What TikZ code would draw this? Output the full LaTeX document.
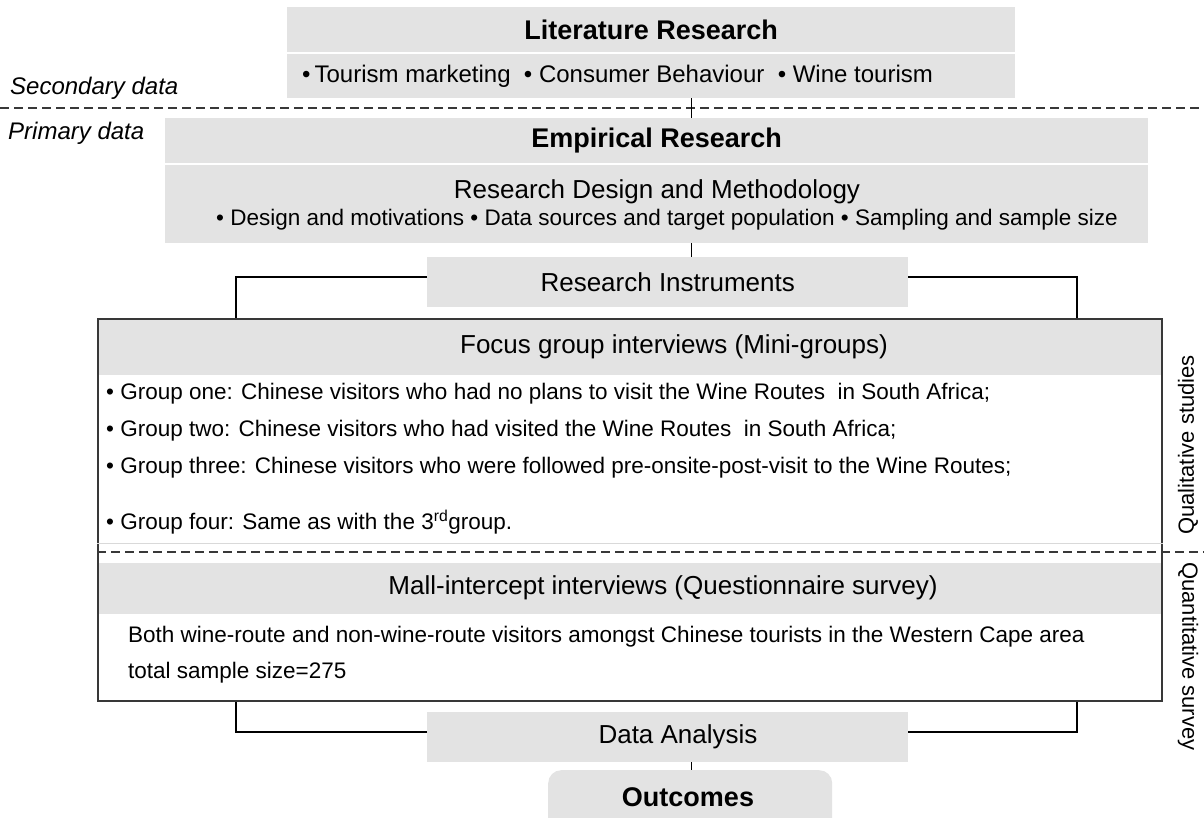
\documentclass[tikz,border=0pt]{standalone}
\usepackage{fontspec}
\setmainfont{Liberation Sans}
\usetikzlibrary{calc}

\definecolor{panel}{HTML}{E3E3E3}
\definecolor{rulecol}{HTML}{383838}

\newcommand\titlefnt{\fontsize{27}{32}\selectfont\bfseries}
\newcommand\headfnt{\fontsize{26}{30}\selectfont}
\newcommand\topicfnt{\fontsize{24}{28}\selectfont}
\newcommand\bodyfnt{\fontsize{22.5}{27}\selectfont}
\newcommand\sidefnt{\fontsize{24}{28}\selectfont\itshape}
\newcommand\vertfnt{\fontsize{22}{26}\selectfont}

\begin{document}
\begin{tikzpicture}[x=1pt,y=-1pt,
  panelbox/.style={fill=panel, draw=none, inner sep=0pt, anchor=north west},
  framebox/.style={draw=rulecol, line width=1.6pt, inner sep=0pt, anchor=north west},
  link/.style={draw=black, line width=1pt},
  bracket/.style={draw=black, line width=1.5pt},
  divider/.style={draw=rulecol, line width=1.4pt, dash pattern=on 9pt off 5pt},
  plain/.style={inner sep=0pt, text=black},
]
\useasboundingbox (0,0) rectangle (1204,818);
\fill[white] (0,0) rectangle (1204,818);

% ---- secondary data: literature research ----
\node[panelbox, minimum width=728pt, minimum height=45pt] (lit) at (287,7) {\titlefnt Literature Research};
\node[panelbox, minimum width=728pt, minimum height=44pt] (litsub) at (287,54) {};
\node[plain, anchor=west, font=\topicfnt] (littopics) at (302,76) {•\,Tourism marketing \ • Consumer Behaviour \ • Wine tourism};

% ---- primary data: empirical research ----
\node[panelbox, minimum width=983pt, minimum height=45pt] (emp) at (165,118) {\titlefnt Empirical Research};
\node[panelbox, minimum width=983pt, minimum height=78pt] (empsub) at (165,165) {};
\node[plain, font=\headfnt] (design) at (657,192) {Research Design and Methodology};
\node[plain, font=\bodyfnt] (designitems) at (667,220) {• Design and motivations • Data sources and target population • Sampling and sample size};

% ---- research instruments ----
\node[panelbox, minimum width=481pt, minimum height=50pt] (ri) at (427,257) {\headfnt Research Instruments};

% ---- qualitative / quantitative frame ----
\node[panelbox, minimum width=1064pt, minimum height=57pt] (focusbar) at (97,318) {};
\node[panelbox, minimum width=1064pt, minimum height=51pt] (mallbar) at (97,563) {};
\node[framebox, minimum width=1064pt, minimum height=382pt] (frame) at (97,318) {};

\node[plain, font=\headfnt] (focushead) at (674,347) {Focus group interviews (Mini-groups)};
\node[plain, anchor=west, font=\bodyfnt] (g1) at (106,394) {• Group one: Chinese visitors who had no plans to visit the Wine Routes\ \ in South Africa;};
\node[plain, anchor=west, font=\bodyfnt] (g2) at (106,431) {• Group two: Chinese visitors who had visited the Wine Routes\ \ in South Africa;};
\node[plain, anchor=west, font=\bodyfnt] (g3) at (106,468) {• Group three: Chinese visitors who were followed pre-onsite-post-visit to the Wine Routes;};
\node[plain, anchor=west, font=\bodyfnt] (g4) at (106,522) {• Group four: Same as with the 3\textsuperscript{rd}group.};

\draw[gray!30, line width=0.8pt] (frame.west |- 0,543) -- (frame.east |- 0,543);

\node[plain, font=\headfnt] (mallhead) at (663,588) {Mall-intercept interviews (Questionnaire survey)};
\node[plain, anchor=west, font=\bodyfnt] (both) at (128,637) {Both wine-route and non-wine-route visitors amongst Chinese tourists in the Western Cape area};
\node[plain, anchor=west, font=\bodyfnt] (total) at (128,673) {total sample size=275};

% ---- data analysis and outcomes ----
\node[panelbox, minimum width=481pt, minimum height=50pt] (da) at (427,712) {};
\node[plain, font=\headfnt] (datext) at (678,737) {Data Analysis};
\node[fill=panel, draw=none, rounded corners=13pt, inner sep=0pt, anchor=north west,
      minimum width=284pt, minimum height=70pt] (outc) at (548,770) {};
\node[plain, font=\titlefnt] (outtext) at (688,797) {Outcomes};

% ---- dividers between data kinds ----
\coordinate (divL) at (0,108);
\coordinate (divR) at (1204,108);
\draw[divider] (divL) -- (divR);
\coordinate (studyR) at (1204,552);
\draw[divider] (frame.west |- studyR) -- (studyR);

\node[plain, anchor=base west, font=\sidefnt] (secondary) at (10,95) {Secondary data};
\node[plain, anchor=base west, font=\sidefnt] (primary) at (8,140) {Primary data};

\node[plain, rotate=90, anchor=west, font=\vertfnt] (qual) at (1188,535) {Qualitative studies};
\node[plain, rotate=-90, anchor=west, font=\vertfnt] (quant) at (1188,562) {Quantitative survey};

% ---- connectors ----
\coordinate (spine) at (691,0);
\draw[link] (spine |- litsub.south) -- (spine |- emp.north);
\draw[link] (spine |- empsub.south) -- (spine |- ri.north);
\draw[link] (spine |- da.south) -- (spine |- outc.north);

\coordinate (bkL) at (236,0);
\coordinate (bkR) at (1077,0);
\draw[bracket] ([yshift=5pt]ri.west) -| (bkL |- frame.north);
\draw[bracket] ([yshift=5pt]ri.east) -| (bkR |- frame.north);
\draw[bracket] ([yshift=5pt]da.west) -| (bkL |- frame.south);
\draw[bracket] ([yshift=5pt]da.east) -| (bkR |- frame.south);
\end{tikzpicture}
\end{document}
